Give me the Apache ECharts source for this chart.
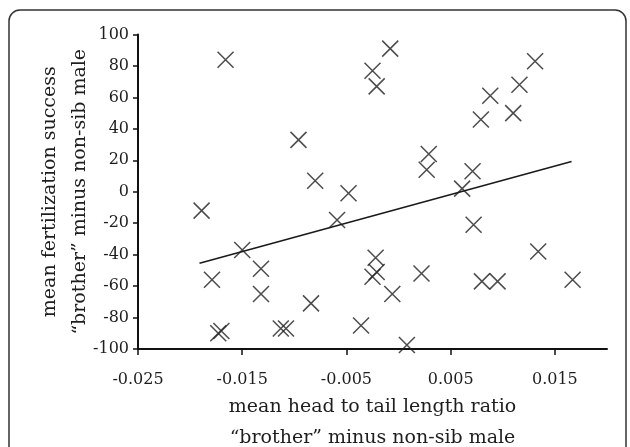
<!DOCTYPE html>
<html>
<head>
<meta charset="utf-8">
<script src="https://cdn.jsdelivr.net/npm/echarts@6/dist/echarts.min.js"></script>
<style>
  html, body { margin: 0; padding: 0; background: #fff; }
  #chart { width: 630px; height: 447px; }
</style>
</head>
<body>
<div id="chart"></div>
<script>
// head:tail ratio difference (x) vs fertilization success difference (y)
const pointsX = [-0.0166, -0.0096, -0.0080, -0.0008, -0.0025, -0.0021, 0.0079, 0.0088, 0.0029, 0.0027,
  0.0071, 0.0061, -0.0048, 0.0131, 0.0116, 0.0110, -0.0189, -0.0150, -0.0179, -0.0132,
  -0.0132, -0.0084, -0.0173, -0.0170, -0.0113, -0.0108, -0.0059, 0.0072, -0.0022, -0.0021,
  -0.0025, -0.0006, 0.0022, -0.0036, 0.0008, 0.0080, 0.0095, 0.0134, 0.0167]
const pointsY = [84, 33, 7, 91, 77, 67, 46, 61, 24, 14,
  13, 2, -1, 83, 68, 50, -12, -37, -56, -49,
  -65, -71, -90, -88.5, -87, -87, -18, -21, -42, -51,
  -54, -65, -52, -85, -97.5, -57, -57, -38, -56]

// fitted line end points
const trendX = [-0.0191, 0.0166]
const trendY = [-45.5, 19.2]

const xTickValues = [-0.025, -0.015, -0.005, 0.005, 0.015]

const ink = '#1e1e1e'
const font = 'DejaVu Serif'

const chart = echarts.init(document.getElementById('chart'))

const option = {
  backgroundColor: '#fff',
  animation: false,
  graphic: [
    {
      type: 'rect',
      shape: { x: 9, y: 10, width: 617, height: 470, r: 11 },
      style: { fill: 'none', stroke: '#333', lineWidth: 1.5 },
      silent: true
    }
  ],
  grid: { left: 138, right: 23, top: 34.5, bottom: 98, outerBoundsMode: 'none', containLabel: false },
  xAxis: {
    type: 'value',
    min: -0.025,
    max: 0.02,
    interval: 0.01,
    name: 'mean head to tail length ratio\n“brother” minus non-sib male',
    nameLocation: 'middle',
    nameGap: 43,
    nameMoveOverlap: false,
    nameTextStyle: { color: ink, fontFamily: font, fontSize: 19, lineHeight: 31 },
    axisLine: { onZero: false, lineStyle: { color: '#111', width: 2 } },
    axisTick: { show: true, length: 6, customValues: xTickValues, lineStyle: { color: '#111', width: 1.5 } },
    axisLabel: { customValues: xTickValues, color: ink, fontFamily: font, fontSize: 16, margin: 23 },
    splitLine: { show: false }
  },
  yAxis: {
    type: 'value',
    min: -100,
    max: 100,
    interval: 20,
    name: 'mean fertilization success\n“brother” minus non-sib male',
    nameLocation: 'middle',
    nameGap: 43,
    nameMoveOverlap: false,
    nameTextStyle: { color: ink, fontFamily: font, fontSize: 19, lineHeight: 30 },
    axisLine: { onZero: false, lineStyle: { color: '#111', width: 2 } },
    axisTick: { show: true, length: 5, lineStyle: { color: '#111', width: 1.5 } },
    axisLabel: { color: ink, fontFamily: font, fontSize: 16, margin: 9 },
    splitLine: { show: false }
  },
  series: [
    {
      type: 'scatter',
      data: pointsX.map((x, i) => [x, pointsY[i]]),
      symbol: 'path://M0,0L10,10M10,0L0,10',
      symbolSize: 16,
      itemStyle: { color: 'none', borderColor: '#1f1f1f', borderWidth: 1.5 },
      z: 3
    },
    {
      type: 'line',
      data: trendX.map((x, i) => [x, trendY[i]]),
      showSymbol: false,
      lineStyle: { color: '#1a1a1a', width: 1.6 },
      z: 2
    }
  ]
}

chart.setOption(option)
</script>
</body>
</html>
